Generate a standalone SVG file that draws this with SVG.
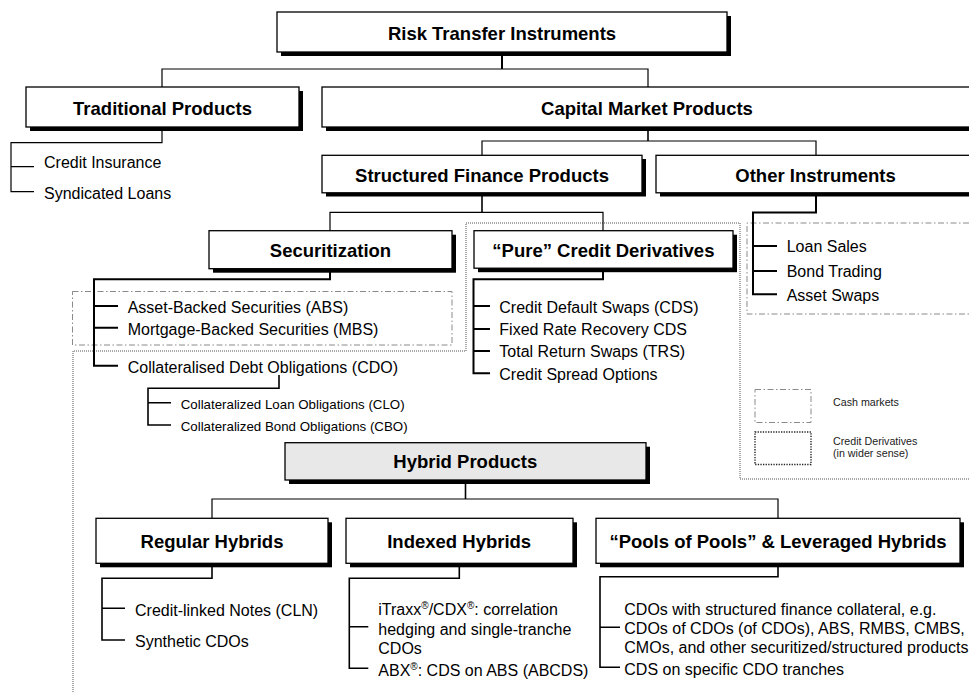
<svg xmlns="http://www.w3.org/2000/svg" width="969" height="694" viewBox="0 0 969 694">
<style>
text{font-family:"Liberation Sans",Arial,Helvetica,sans-serif;fill:#000}
.t{font-size:18.5px;font-weight:bold;text-anchor:middle}
.i{font-size:16px}
.s{font-size:13.3px}
.l{font-size:10.7px;fill:#222}
.box{fill:#fff;stroke:#000;stroke-width:1.3}
.gray{fill:#e8e8e8}
.sh{fill:#000}
.c1{fill:none;stroke:#000;stroke-width:1.2}
.c2{fill:none;stroke:#000;stroke-width:2}
.c15{fill:none;stroke:#000;stroke-width:1.6}
.dd{fill:none;stroke:#8a8a8a;stroke-width:1;stroke-dasharray:6,2.5,1.5,2.5}
.dt{fill:none;stroke:#555;stroke-width:1;stroke-dasharray:1,1}
.dtl{fill:none;stroke:#222;stroke-width:1.4;stroke-dasharray:1.3,1.3}
</style>
<rect width="969" height="694" fill="#fff"/>
<g id="regions">
<path class="dt" d="M73,692 V351 H466 V223 H740 V479 H969"/>
<rect class="dd" x="72.5" y="291.5" width="379.5" height="53.5"/>
<path class="dd" d="M969,223 H747 V314 H969"/>
</g>
<g id="connectors">
<path class="c2" d="M502,52 V69"/>
<path class="c1" d="M162,87 V69 H648 V87"/>
<path class="c1" d="M162,127 V142.7 H11 V191.7 H34 M11,166.7 H34"/>
<path class="c15" d="M648,127 V141"/>
<path class="c1" d="M482,155 V141 H816 V155"/>
<path class="c15" d="M482,193 V212.3"/>
<path class="c1" d="M330,231 V212.3 H603 V231"/>
<path class="c2" d="M816,193 V212.5 H753 V294.3 H777 M753,246 H777 M753,271 H777"/>
<path class="c2" d="M330,269 V279.3 H94 V365.7 H118 M94,306 H118 M94,327.7 H118"/>
<path class="c15" d="M279,375 V388.3 H148 V425 H171 M148,402.7 H171"/>
<path class="c2" d="M603,268 V279.3 H473.5 V373.3 H490 M473.5,306 H490 M473.5,329 H490 M473.5,351 H490"/>
<path class="c15" d="M465.5,480 V499"/>
<path class="c1" d="M212,518 V499 H778 V518"/>
<path class="c15" d="M212,563 V578.3 H102 V640 H125 M102,608.3 H125"/>
<path class="c15" d="M459.3,563 V578.3 H349.3 V668.3 H368.3 M349.3,626.7 H368.3"/>
<path class="c15" d="M778,563 V576.7 H600 V667.3 H620 M600,627.3 H620"/>
</g>
<g id="n-rti">
<rect class="sh" x="281" y="16" width="450" height="40"/>
<rect class="box" x="277" y="12" width="450" height="40"/>
<text class="t" x="502" y="39.5">Risk Transfer Instruments</text>
</g>
<g id="n-traditional">
<rect class="sh" x="30" y="91" width="273" height="40"/>
<rect class="box" x="26" y="87" width="273" height="40"/>
<text class="t" x="162.5" y="114.5">Traditional Products</text>
</g>
<g id="n-traditional-items">
<text class="i" x="44" y="168">Credit Insurance</text>
<text class="i" x="44" y="198.5">Syndicated Loans</text>
</g>
<g id="n-capital">
<rect class="sh" x="326" y="91" width="650" height="40"/>
<rect class="box" x="322" y="87" width="650" height="40"/>
<text class="t" x="647" y="114.5">Capital Market Products</text>
</g>
<g id="n-structured">
<rect class="sh" x="326" y="159" width="320" height="37.5"/>
<rect class="box" x="322" y="155.3" width="320" height="37.5"/>
<text class="t" x="482" y="181.5">Structured Finance Products</text>
</g>
<g id="n-other">
<rect class="sh" x="660" y="159" width="320" height="37.5"/>
<rect class="box" x="656" y="155.3" width="320" height="37.5"/>
<text class="t" x="815.5" y="181.5">Other Instruments</text>
</g>
<g id="n-other-items">
<text class="i" x="786.7" y="252.3">Loan Sales</text>
<text class="i" x="786.7" y="277.3">Bond Trading</text>
<text class="i" x="786.7" y="300.5">Asset Swaps</text>
</g>
<g id="n-securitization">
<rect class="sh" x="213" y="234.7" width="243" height="38"/>
<rect class="box" x="209" y="230.7" width="243" height="38"/>
<text class="t" x="330.5" y="257.3">Securitization</text>
</g>
<g id="n-securitization-items">
<text class="i" x="127.7" y="312.5">Asset-Backed Securities (ABS)</text>
<text class="i" x="127.7" y="335">Mortgage-Backed Securities (MBS)</text>
<text class="i" x="127.7" y="372.5">Collateralised Debt Obligations (CDO)</text>
<text class="s" x="180.7" y="409">Collateralized Loan Obligations (CLO)</text>
<text class="s" x="180.7" y="430.5">Collateralized Bond Obligations (CBO)</text>
</g>
<g id="n-pure">
<rect class="sh" x="478" y="234.7" width="259" height="37.5"/>
<rect class="box" x="474" y="230.7" width="259" height="37.5"/>
<text class="t" x="603.4" y="257.3">“Pure” Credit Derivatives</text>
</g>
<g id="n-pure-items">
<text class="i" x="499.3" y="313">Credit Default Swaps (CDS)</text>
<text class="i" x="499.3" y="335">Fixed Rate Recovery CDS</text>
<text class="i" x="499.3" y="357.3">Total Return Swaps (TRS)</text>
<text class="i" x="499.3" y="380">Credit Spread Options</text>
</g>
<g id="legend">
<rect class="dd" x="755" y="389.5" width="56" height="33"/>
<rect class="dtl" x="755" y="432" width="56" height="32.5"/>
<text class="l" x="833" y="406">Cash markets</text>
<text class="l" x="833" y="445">Credit Derivatives</text>
<text class="l" x="833" y="457">(in wider sense)</text>
</g>
<g id="n-hybrid">
<rect class="sh" x="289" y="446.7" width="361" height="37.3"/>
<rect class="box gray" x="285" y="442.7" width="361" height="37.3"/>
<text class="t" x="465.3" y="467.5">Hybrid Products</text>
</g>
<g id="n-regular">
<rect class="sh" x="100" y="522.3" width="232" height="45"/>
<rect class="box" x="96" y="518.3" width="232" height="45"/>
<text class="t" x="212" y="548.3">Regular Hybrids</text>
</g>
<g id="n-regular-items">
<text class="i" x="135" y="615.5">Credit-linked Notes (CLN)</text>
<text class="i" x="135" y="647.3">Synthetic CDOs</text>
</g>
<g id="n-indexed">
<rect class="sh" x="350" y="522.3" width="227" height="45"/>
<rect class="box" x="346" y="518.3" width="227" height="45"/>
<text class="t" x="459.2" y="548.3">Indexed Hybrids</text>
</g>
<g id="n-indexed-items">
<text class="i" x="378.3" y="615">iTraxx<tspan font-size="10" dy="-6">®</tspan><tspan dy="6">/CDX</tspan><tspan font-size="10" dy="-6">®</tspan><tspan dy="6">: correlation</tspan></text>
<text class="i" x="378.3" y="634.5">hedging and single-tranche</text>
<text class="i" x="378.3" y="653.5">CDOs</text>
<text class="i" x="378.3" y="676">ABX<tspan font-size="10" dy="-6">®</tspan><tspan dy="6">: CDS on ABS (ABCDS)</tspan></text>
</g>
<g id="n-pools">
<rect class="sh" x="600" y="522.3" width="364" height="45"/>
<rect class="box" x="596" y="518.3" width="364" height="45"/>
<text class="t" x="778" y="548.3">“Pools of Pools” &amp; Leveraged Hybrids</text>
</g>
<g id="n-pools-items">
<text class="i" x="624.3" y="615">CDOs with structured finance collateral, e.g.</text>
<text class="i" x="624.3" y="634">CDOs of CDOs (of CDOs), ABS, RMBS, CMBS,</text>
<text class="i" x="624.3" y="653">CMOs, and other securitized/structured products</text>
<text class="i" x="624.3" y="674.5">CDS on specific CDO tranches</text>
</g>
</svg>
